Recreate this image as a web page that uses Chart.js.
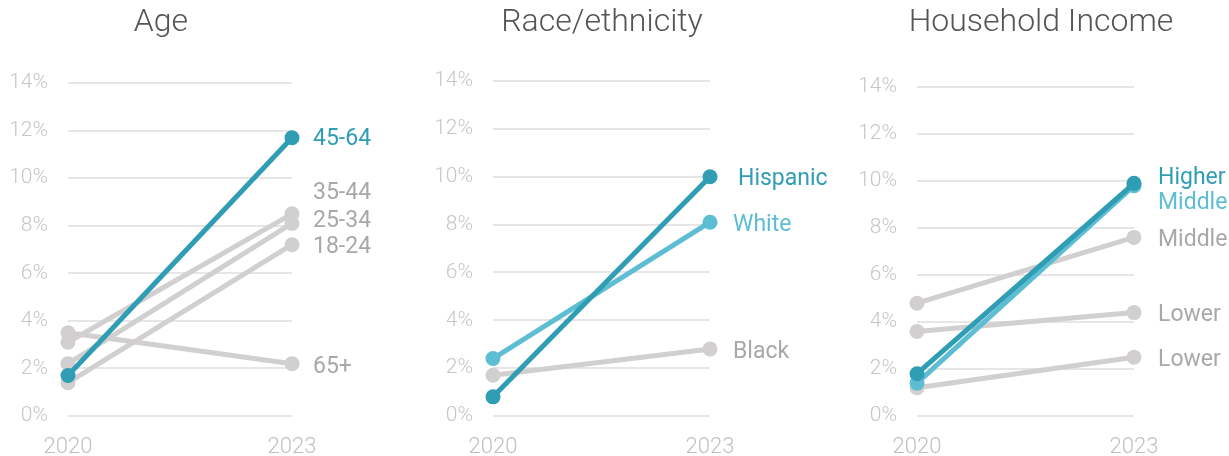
<!DOCTYPE html>
<html>
<head>
<meta charset="utf-8">
<title>Growth by group, 2020 vs 2023</title>
<script src="https://cdn.jsdelivr.net/npm/chart.js@4.4.1/dist/chart.umd.min.js"></script>
<style>
    html, body { margin: 0; padding: 0; background: #ffffff; }
    .panel { position: absolute; top: 0; height: 456px; }
</style>
</head>
<body>
<div class="panel" style="left:0px;width:410px"><canvas id="ageChart" width="410" height="456"></canvas></div>
<div class="panel" style="left:410px;width:420px"><canvas id="raceChart" width="420" height="456"></canvas></div>
<div class="panel" style="left:830px;width:399px"><canvas id="incomeChart" width="399" height="456"></canvas></div>
<script>
// Data
const years = ['2020', '2023'];
const yTickValues = [0, 2, 4, 6, 8, 10, 12, 14];

const ageGroups = ['45-64', '35-44', '25-34', '18-24', '65+'];
const age2020 = [1.7, 3.1, 2.2, 1.4, 3.5];
const age2023 = [11.7, 8.5, 8.1, 7.2, 2.2];

const raceGroups = ['Hispanic', 'White', 'Black'];
const race2020 = [0.8, 2.4, 1.7];
const race2023 = [10.0, 8.1, 2.8];

const incomeGroups = ['Higher', 'Middle', 'Middle', 'Lower', 'Lower'];
const income2020 = [1.8, 1.4, 4.8, 3.6, 1.2];
const income2023 = [9.9, 9.8, 7.6, 4.4, 2.5];

// Colours
const TEAL = '#2f9db4';
const LIGHT_TEAL = '#5dbdd3';
const GREY_LINE = '#d1cfcf';
const GREY_TEXT = '#aaa7a7';

const ageLineColors = [TEAL, GREY_LINE, GREY_LINE, GREY_LINE, GREY_LINE];
const ageTextColors = [TEAL, GREY_TEXT, GREY_TEXT, GREY_TEXT, GREY_TEXT];
const raceLineColors = [TEAL, LIGHT_TEAL, GREY_LINE];
const raceTextColors = [TEAL, LIGHT_TEAL, GREY_TEXT];
const incomeLineColors = [TEAL, LIGHT_TEAL, GREY_LINE, GREY_LINE, GREY_LINE];
const incomeTextColors = [TEAL, LIGHT_TEAL, GREY_TEXT, GREY_TEXT, GREY_TEXT];

// Draws the group name to the right of each line's last point
const endLabels = {
    id: 'endLabels',
    afterDatasetsDraw(chart, args, opts) {
        const ctx = chart.ctx;
        ctx.save();
        ctx.font = '400 23px Roboto';
        ctx.textBaseline = 'middle';
        ctx.textAlign = 'left';
        chart.data.datasets.forEach((ds, i) => {
            const meta = chart.getDatasetMeta(i);
            const pt = meta.data[meta.data.length - 1];
            const nudge = opts.nudges[i] || [0, 0];
            ctx.fillStyle = opts.colors[i];
            // +3 puts the cap-height centre on the point rather than the em box
            ctx.fillText(ds.label, pt.x + opts.gap + nudge[0], pt.y + 3 + nudge[1]);
        });
        ctx.restore();
    }
};

function buildChart(id, title, groups, start, end, lineColors, textColors, box, labels) {
    const datasets = groups.map((g, i) => ({
        label: g,
        data: [start[i], end[i]],
        borderColor: lineColors[i],
        backgroundColor: lineColors[i],
        pointBackgroundColor: lineColors[i],
        pointBorderWidth: 0,
        pointRadius: 7.5,
        pointHoverRadius: 7.5,
        borderWidth: 5,
        tension: 0,
        clip: false
    }));

    return new Chart(document.getElementById(id), {
        type: 'line',
        data: { labels: years, datasets: datasets },
        plugins: [endLabels],
        options: {
            responsive: false,
            animation: false,
            events: [],
            layout: { padding: { left: box.padL, right: box.padR, top: 0, bottom: 0 } },
            plugins: {
                legend: { display: false },
                tooltip: { enabled: false },
                title: {
                    display: true,
                    text: title,
                    color: '#555555',
                    font: { family: 'Roboto', size: 32, weight: 300 },
                    padding: { top: 4, bottom: box.titleGap }
                },
                endLabels: { gap: labels.gap, nudges: labels.nudges, colors: textColors }
            },
            scales: {
                x: {
                    offset: false,
                    grid: { display: false },
                    border: { display: false },
                    ticks: {
                        color: '#bfbfbf',
                        font: { family: 'Roboto', size: 22, weight: 300 },
                        padding: 10,
                        maxRotation: 0
                    },
                    afterFit: s => { s.height = 40; }
                },
                y: {
                    min: 0,
                    max: 14,
                    afterBuildTicks: s => { s.ticks = yTickValues.map(v => ({ value: v })); },
                    grid: { color: '#e6e6e6', lineWidth: 2, drawTicks: false },
                    border: { display: false },
                    ticks: {
                        color: '#c6c6c6',
                        font: { family: 'Roboto', size: 21, weight: 300 },
                        padding: 20,
                        callback: v => v + '%'
                    },
                    afterFit: s => { s.width = box.yW; }
                },
                yRight: {
                    type: 'linear',
                    position: 'right',
                    grid: { display: false },
                    border: { display: false },
                    ticks: { display: false },
                    afterFit: s => { s.width = box.rW; }
                }
            }
        }
    });
}

document.addEventListener('DOMContentLoaded', () => {
    buildChart('ageChart', 'Age', ageGroups, age2020, age2023, ageLineColors, ageTextColors,
        { padL: 0, padR: 88, yW: 68, rW: 30, titleGap: 40.6 },
        { gap: 21, nudges: [[0, -1], [0, -24], [0, -5], [0, 0], [0, 1]] });

    buildChart('raceChart', 'Race/ethnicity', raceGroups, race2020, race2023, raceLineColors, raceTextColors,
        { padL: 15, padR: 51, yW: 68, rW: 69, titleGap: 38.6 },
        { gap: 23, nudges: [[5, 0], [0, 0], [0, 0]] });

    buildChart('incomeChart', 'Household Income', incomeGroups, income2020, income2023, incomeLineColors, incomeTextColors,
        { padL: 23, padR: 0, yW: 64, rW: 95, titleGap: 44.6 },
        { gap: 24, nudges: [[0, -8], [0, 15], [0, 0], [0, 0], [0, 0]] });
});
</script>
</body>
</html>
